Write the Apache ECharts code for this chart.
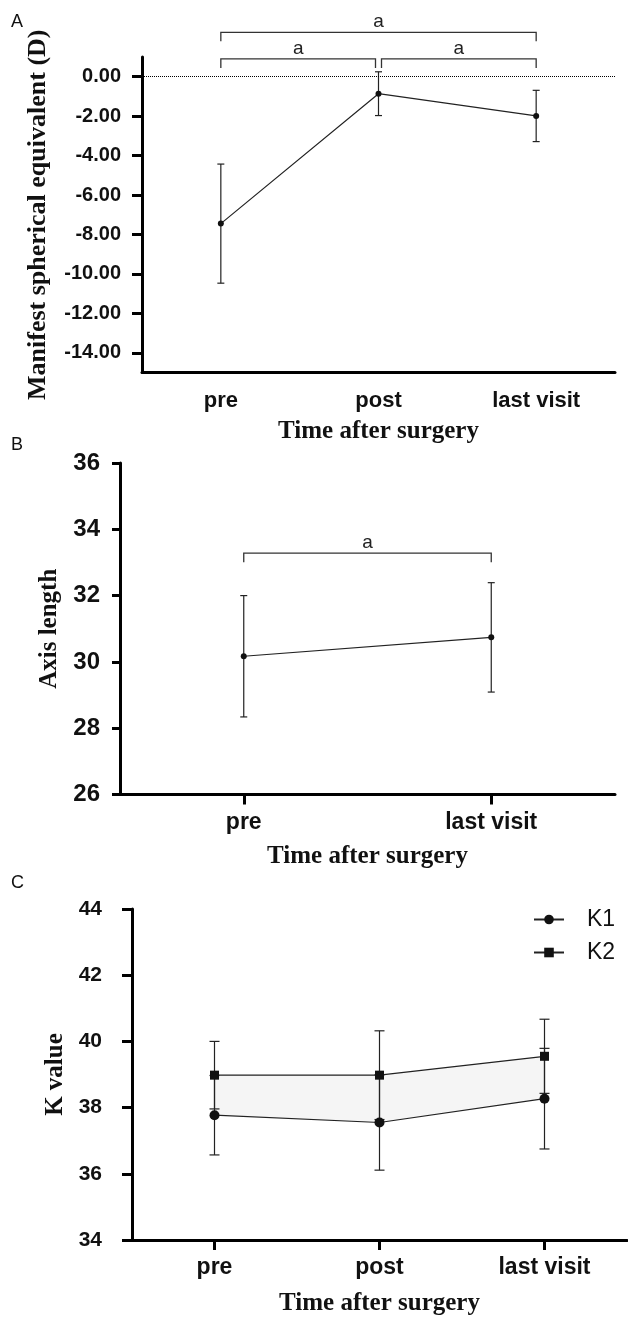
<!DOCTYPE html>
<html>
<head>
<meta charset="utf-8">
<script src="https://cdn.jsdelivr.net/npm/echarts@6/dist/echarts.min.js"></script>
<style>
html,body{margin:0;padding:0;background:#fff;}
#chart{width:628px;height:1317px;}
</style>
</head>
<body>
<div id="chart"></div>
<script>
// ---------- data ----------
const catsA = ['pre', 'post', 'last visit'];
const meanA = [-7.45, -0.86, -1.99];
const sdA = [3.02, 1.11, 1.30];
const yTicksA = [0, -2, -4, -6, -8, -10, -12, -14];
const bracketsA = [[0, 2, 2.25, 'a'], [0, 1, 0.9, 'a'], [1, 2, 0.9, 'a']];

const catsB = ['pre', 'last visit'];
const meanB = [30.17, 30.74];
const sdB = [1.83, 1.65];
const bracketsB = [[0, 1, 33.28, 'a']];

const catsC = ['pre', 'post', 'last visit'];
const k1Mean = [37.77, 37.55, 38.27];
const k1Sd = [1.20, 1.44, 1.52];
const k2Mean = [38.98, 38.98, 39.55];
const k2Sd = [1.02, 1.34, 1.12];

// ---------- styles ----------
const SANS = "'Liberation Sans', Arial, sans-serif";
const SERIF = "'Liberation Serif', 'Times New Roman', serif";
const INK = '#111';
const LINE = '#222';

function errRender(capHalf) {
  return function (params, api) {
    const x = api.value(0), m = api.value(1), e = api.value(2);
    const t = api.coord([x, m + e]);
    const b = api.coord([x, m - e]);
    const st = { stroke: LINE, lineWidth: 1.2, fill: null };
    return {
      type: 'group',
      children: [
        { type: 'line', shape: { x1: t[0], y1: t[1], x2: b[0], y2: b[1] }, style: st },
        { type: 'line', shape: { x1: t[0] - capHalf, y1: t[1], x2: t[0] + capHalf, y2: t[1] }, style: st },
        { type: 'line', shape: { x1: b[0] - capHalf, y1: b[1], x2: b[0] + capHalf, y2: b[1] }, style: st }
      ]
    };
  };
}

function bracketRender(list, nCats) {
  return function (params, api) {
    const row = list[params.dataIndex];
    const p1 = api.coord([row[0], row[2]]);
    const p2 = api.coord([row[1], row[2]]);
    const tip = 9;
    let x1 = p1[0], x2 = p2[0];
    if (row[0] > 0 && row[0] < nCats - 1) x1 += 3;
    if (row[1] > 0 && row[1] < nCats - 1) x2 -= 3;
    const y = p1[1];
    return {
      type: 'group',
      children: [
        { type: 'polyline', shape: { points: [[x1, y + tip], [x1, y], [x2, y], [x2, y + tip]] },
          style: { stroke: '#333', lineWidth: 1.3, fill: null } },
        { type: 'text', style: { x: (x1 + x2) / 2, y: y - 1, text: row[3], fill: '#222',
          font: "19px 'Liberation Sans', Arial, sans-serif", textAlign: 'center', textVerticalAlign: 'bottom' } }
      ]
    };
  };
}

const axisLineStyle = { color: '#000', width: 3 };
const nameStyle = { fontFamily: SERIF, fontWeight: 'bold', fontSize: 25, color: INK };

const chart = echarts.init(document.getElementById('chart'), null, { renderer: 'canvas' });

const option = {
  backgroundColor: '#fff',
  animation: false,
  title: [
    { text: 'A', left: 11, top: 13, padding: 0, textStyle: { fontFamily: SANS, fontWeight: 'normal', fontSize: 18, color: INK } },
    { text: 'B', left: 11, top: 436, padding: 0, textStyle: { fontFamily: SANS, fontWeight: 'normal', fontSize: 18, color: INK } },
    { text: 'C', left: 11, top: 874, padding: 0, textStyle: { fontFamily: SANS, fontWeight: 'normal', fontSize: 18, color: INK } }
  ],
  legend: {
    data: ['K1', 'K2'],
    orient: 'vertical',
    left: 528, top: 903,
    itemWidth: 30, itemHeight: 12, itemGap: 10,
    textStyle: { fontFamily: SANS, fontSize: 23, color: INK, padding: [0, 0, 0, 18] }
  },
  grid: [
    { left: 142, top: 57, width: 473, height: 315.5 },
    { left: 120, top: 463, width: 495, height: 331.5 },
    { left: 132, top: 909, width: 495, height: 331 }
  ],
  xAxis: [
    { type: 'category', gridIndex: 0, data: catsA, boundaryGap: true,
      axisLine: { onZero: false, lineStyle: axisLineStyle }, axisTick: { show: false },
      axisLabel: { fontFamily: SANS, fontWeight: 'bold', fontSize: 22, color: INK, margin: 17 },
      name: 'Time after surgery', nameLocation: 'middle', nameGap: 47, nameTextStyle: nameStyle },
    { type: 'category', gridIndex: 1, data: catsB, boundaryGap: true,
      axisLine: { onZero: false, lineStyle: axisLineStyle },
      axisTick: { show: true, alignWithLabel: true, length: 10, lineStyle: { color: '#000', width: 3 } },
      axisLabel: { fontFamily: SANS, fontWeight: 'bold', fontSize: 23, color: INK, margin: 17 },
      name: 'Time after surgery', nameLocation: 'middle', nameGap: 50, nameTextStyle: nameStyle },
    { type: 'category', gridIndex: 2, data: catsC, boundaryGap: true,
      axisLine: { onZero: false, lineStyle: axisLineStyle },
      axisTick: { show: true, alignWithLabel: true, length: 10, lineStyle: { color: '#000', width: 3 } },
      axisLabel: { fontFamily: SANS, fontWeight: 'bold', fontSize: 23, color: INK, margin: 16 },
      name: 'Time after surgery', nameLocation: 'middle', nameGap: 51, nameTextStyle: nameStyle }
  ],
  yAxis: [
    { type: 'value', gridIndex: 0, min: -15, max: 1,
      axisLine: { show: true, onZero: false, lineStyle: axisLineStyle },
      axisTick: { show: true, length: 10, customValues: yTicksA, lineStyle: { color: '#000', width: 3 } },
      axisLabel: { customValues: yTicksA, fontFamily: SANS, fontWeight: 'bold', fontSize: 20, color: INK, margin: 21,
        formatter: v => v.toFixed(2) },
      splitLine: { show: false },
      name: 'Manifest spherical equivalent (D)', nameLocation: 'middle', nameGap: 91, nameTextStyle: Object.assign({}, nameStyle, { fontSize: 26 }) },
    { type: 'value', gridIndex: 1, min: 26, max: 36, interval: 2,
      axisLine: { show: true, onZero: false, lineStyle: axisLineStyle },
      axisTick: { show: true, length: 8, lineStyle: { color: '#000', width: 3 } },
      axisLabel: { fontFamily: SANS, fontWeight: 'bold', fontSize: 24, color: INK, margin: 20 },
      splitLine: { show: false },
      name: 'Axis length', nameLocation: 'middle', nameGap: 58, nameTextStyle: nameStyle },
    { type: 'value', gridIndex: 2, min: 34, max: 44, interval: 2,
      axisLine: { show: true, onZero: false, lineStyle: axisLineStyle },
      axisTick: { show: true, length: 10, lineStyle: { color: '#000', width: 3 } },
      axisLabel: { fontFamily: SANS, fontWeight: 'bold', fontSize: 21, color: INK, margin: 30 },
      splitLine: { show: false },
      name: 'K value', nameLocation: 'middle', nameGap: 63, nameTextStyle: nameStyle }
  ],
  series: [
    // ---- Panel A ----
    { type: 'custom', name: 'errA', xAxisIndex: 0, yAxisIndex: 0, clip: false, z: 3,
      data: meanA.map((m, i) => [i, m, sdA[i]]), renderItem: errRender(3.5) },
    { type: 'line', name: 'SE', xAxisIndex: 0, yAxisIndex: 0, data: meanA, z: 4,
      symbol: 'circle', symbolSize: 6, itemStyle: { color: INK },
      lineStyle: { color: LINE, width: 1.2 },
      markLine: { silent: true, symbol: 'none', label: { show: false },
        lineStyle: { type: 'dotted', color: '#000', width: 1 }, data: [{ yAxis: 0 }] } },
    { type: 'custom', name: 'brA', xAxisIndex: 0, yAxisIndex: 0, clip: false,
      data: bracketsA.map(b => [b[0], b[1], b[2]]), renderItem: bracketRender(bracketsA, catsA.length) },
    // ---- Panel B ----
    { type: 'custom', name: 'errB', xAxisIndex: 1, yAxisIndex: 1, clip: false, z: 3,
      data: meanB.map((m, i) => [i, m, sdB[i]]), renderItem: errRender(3.5) },
    { type: 'line', name: 'AL', xAxisIndex: 1, yAxisIndex: 1, data: meanB, z: 4,
      symbol: 'circle', symbolSize: 6, itemStyle: { color: INK },
      lineStyle: { color: LINE, width: 1.2 } },
    { type: 'custom', name: 'brB', xAxisIndex: 1, yAxisIndex: 1, clip: false,
      data: bracketsB.map(b => [b[0], b[1], b[2]]), renderItem: bracketRender(bracketsB, catsB.length) },
    // ---- Panel C ----
    { type: 'line', name: 'bandBase', xAxisIndex: 2, yAxisIndex: 2, stack: 'band', data: k1Mean,
      symbol: 'none', lineStyle: { opacity: 0 }, silent: true, z: 1 },
    { type: 'line', name: 'band', xAxisIndex: 2, yAxisIndex: 2, stack: 'band',
      data: k2Mean.map((v, i) => +(v - k1Mean[i]).toFixed(3)),
      symbol: 'none', lineStyle: { opacity: 0 }, areaStyle: { color: '#f5f5f5', opacity: 1 }, silent: true, z: 1 },
    { type: 'custom', name: 'errK1', xAxisIndex: 2, yAxisIndex: 2, clip: false, z: 3,
      data: k1Mean.map((m, i) => [i, m, k1Sd[i]]), renderItem: errRender(5) },
    { type: 'custom', name: 'errK2', xAxisIndex: 2, yAxisIndex: 2, clip: false, z: 3,
      data: k2Mean.map((m, i) => [i, m, k2Sd[i]]), renderItem: errRender(5) },
    { type: 'line', name: 'K1', xAxisIndex: 2, yAxisIndex: 2, data: k1Mean, z: 4,
      symbol: 'circle', symbolSize: 10, itemStyle: { color: INK },
      lineStyle: { color: LINE, width: 1.2 } },
    { type: 'line', name: 'K2', xAxisIndex: 2, yAxisIndex: 2, data: k2Mean, z: 4,
      symbol: 'rect', symbolSize: 9, itemStyle: { color: INK },
      lineStyle: { color: LINE, width: 1.2 } }
  ]
};
chart.setOption(option);
</script>
</body>
</html>
